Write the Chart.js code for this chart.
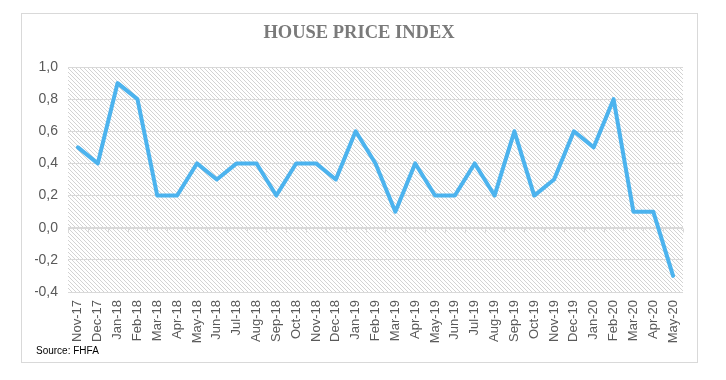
<!DOCTYPE html>
<html>
<head>
<meta charset="utf-8">
<script src="https://cdn.jsdelivr.net/npm/chart.js@4.4.1/dist/chart.umd.min.js"></script>
<style>
  html, body { margin: 0; padding: 0; background: #ffffff; }
  #wrap { width: 726px; height: 380px; position: relative; }
</style>
</head>
<body>
<div id="wrap"><canvas id="c" width="726" height="380"></canvas></div>
<script>
const categories = ['Nov-17','Dec-17','Jan-18','Feb-18','Mar-18','Apr-18','May-18','Jun-18','Jul-18','Aug-18','Sep-18','Oct-18','Nov-18','Dec-18','Jan-19','Feb-19','Mar-19','Apr-19','May-19','Jun-19','Jul-19','Aug-19','Sep-19','Oct-19','Nov-19','Dec-19','Jan-20','Feb-20','Mar-20','Apr-20','May-20'];
const hpiValues = [0.5,0.4,0.9,0.8,0.2,0.2,0.4,0.3,0.4,0.4,0.2,0.4,0.4,0.3,0.6,0.4,0.1,0.4,0.2,0.2,0.4,0.2,0.6,0.2,0.3,0.6,0.5,0.8,0.1,0.1,-0.3];
const yTicks = [1.0,0.8,0.6,0.4,0.2,0.0,-0.2,-0.4];
const titleText = 'HOUSE PRICE INDEX';
const sourceText = 'Source: FHFA';

const NARROW = "'Liberation Sans Narrow', 'Liberation Sans', Arial, sans-serif";

function makeHatch() {
  const p = document.createElement('canvas');
  p.width = 4; p.height = 4;
  const g = p.getContext('2d');
  g.fillStyle = '#ffffff';
  g.fillRect(0, 0, 4, 4);
  g.fillStyle = '#d3d3d3';
  for (let i = 0; i < 4; i++) g.fillRect(i, i, 1, 1);
  return p;
}

const decorPlugin = {
  id: 'decor',
  beforeDraw(chart) {
    const ctx = chart.ctx;
    const a = chart.chartArea;
    ctx.save();
    ctx.fillStyle = '#ffffff';
    ctx.fillRect(0, 0, chart.width, chart.height);
    ctx.strokeStyle = '#d9d9d9';
    ctx.lineWidth = 1;
    ctx.strokeRect(21.5, 13.5, 676, 349);
    const pat = ctx.createPattern(makeHatch(), 'repeat');
    ctx.fillStyle = pat;
    ctx.fillRect(a.left, a.top, a.right - a.left, a.bottom - a.top);
    ctx.fillStyle = '#000000';
    ctx.font = '10px ' + NARROW;
    ctx.textBaseline = 'alphabetic';
    ctx.textAlign = 'left';
    ctx.fillText(sourceText, 36, 354);
    ctx.restore();
  },
  beforeDatasetsDraw(chart) {
    const ctx = chart.ctx;
    const a = chart.chartArea;
    const xs = chart.scales.x, ys = chart.scales.y;
    const y0 = Math.round(ys.getPixelForValue(0)) + 0.5;
    ctx.save();
    ctx.strokeStyle = '#d9d9d9';
    ctx.lineWidth = 1;
    ctx.beginPath();
    ctx.moveTo(a.left, y0);
    ctx.lineTo(a.right, y0);
    const n = categories.length;
    const step = (xs.getPixelForValue(1) - xs.getPixelForValue(0));
    for (let i = 0; i <= n; i++) {
      const x = Math.round(xs.getPixelForValue(0) - step / 2 + i * step) + 0.5;
      ctx.moveTo(x, y0);
      ctx.lineTo(x, y0 + 4);
    }
    ctx.stroke();
    ctx.restore();
  }
};

new Chart(document.getElementById('c'), {
  type: 'line',
  data: {
    labels: categories,
    datasets: [{
      data: hpiValues,
      borderColor: '#4cb3ee',
      borderWidth: 4,
      pointRadius: 0,
      tension: 0,
      fill: false,
      borderJoinStyle: 'round',
      borderCapStyle: 'round'
    }]
  },
  options: {
    responsive: false,
    animation: false,
    devicePixelRatio: 1,
    layout: { padding: { left: 35, right: 43, top: 0, bottom: 0 } },
    plugins: {
      legend: { display: false },
      tooltip: { enabled: false },
      title: {
        display: true,
        text: titleText,
        color: '#7a7a7a',
        font: { family: "'Liberation Serif', 'Times New Roman', serif", size: 18.5, weight: 'bold', lineHeight: 1.2 },
        padding: { top: 22, bottom: 22.8 }
      }
    },
    scales: {
      x: {
        type: 'category',
        offset: true,
        grid: { display: false, drawTicks: false },
        border: { display: false },
        ticks: {
          autoSkip: false,
          maxRotation: 90,
          minRotation: 90,
          padding: 8,
          color: '#595959',
          font: { family: NARROW, size: 13 }
        },
        afterFit(s) { s.height = 88; }
      },
      y: {
        min: -0.4,
        max: 1.0,
        afterBuildTicks(s) { s.ticks = yTicks.map(v => ({ value: v })); },
        grid: { color: '#d9d9d9', lineWidth: 1, drawTicks: false },
        border: { display: false },
        ticks: {
          padding: 10,
          color: '#595959',
          font: { family: NARROW, size: 14 },
          callback: v => Number(v).toFixed(1).replace('.', ',')
        },
        afterFit(s) { s.width = 33; }
      }
    }
  },
  plugins: [decorPlugin]
});
</script>
</body>
</html>
